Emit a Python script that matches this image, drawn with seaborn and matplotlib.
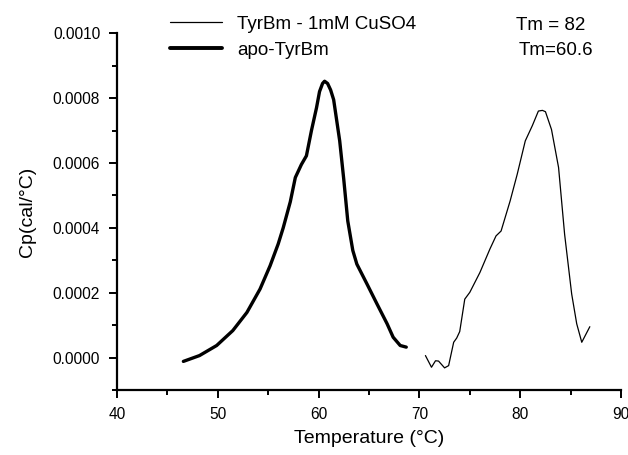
import numpy as np
import pandas as pd
import matplotlib.pyplot as plt
import seaborn as sns
from matplotlib.ticker import MultipleLocator

# apo-TyrBm (curva grossa)
apo_temp = [46.6, 48.2, 49.9, 51.5, 52.9, 54.2, 55.2, 56.0, 56.5, 57.2, 57.7, 58.3, 58.8,
            59.3, 59.8, 60.1, 60.4, 60.6, 60.9, 61.2, 61.5, 62.1, 62.5, 62.9, 63.4, 63.8,
            64.8, 65.8, 66.8, 67.4, 68.1, 68.7]
apo_cp = [-0.000012, 0.000006, 0.000037, 0.000083, 0.000139, 0.000211, 0.000283, 0.000350,
          0.000400, 0.000480, 0.000555, 0.000595, 0.000622, 0.000700, 0.000770, 0.000820,
          0.000845, 0.000852, 0.000845, 0.000825, 0.000795, 0.000668, 0.000550, 0.000421,
          0.000330, 0.000288, 0.000227, 0.000165, 0.000104, 0.0000625, 0.000037, 0.000032]

# TyrBm - 1mM CuSO4 (curva fina)
cu_temp = [70.6, 71.2, 71.6, 71.9, 72.5, 72.9, 73.4, 73.7, 74.0, 74.5, 75.0, 76.0, 77.0,
           77.6, 78.1, 79.0, 79.7, 80.5, 81.2, 81.8, 82.2, 82.5, 83.1, 83.8, 84.4, 85.1,
           85.6, 86.1, 86.9]
cu_cp = [0.000006, -0.000030, -0.000010, -0.000011, -0.000032, -0.000025, 0.000047,
         0.000060, 0.000080, 0.000180, 0.000201, 0.000262, 0.000335, 0.000375, 0.000390,
         0.000483, 0.000565, 0.000668, 0.000715, 0.000760, 0.000762, 0.000758, 0.000703,
         0.000586, 0.000380, 0.000196, 0.000104, 0.000047, 0.000095]

labels = ["TyrBm - 1mM CuSO4", "apo-TyrBm"]
tm_text = ["Tm = 82", "Tm=60.6"]

sns.set_style("ticks")
plt.rcParams['font.family'] = ['Liberation Sans', 'DejaVu Sans']
plt.rcParams['text.color'] = 'black'
plt.rcParams['axes.labelcolor'] = 'black'

fig = plt.figure(figsize=(6.28, 4.55), dpi=100)
ax = fig.add_axes([0.186, 0.143, 0.803, 0.784])

df_cu = pd.DataFrame({"T": cu_temp, "Cp": cu_cp})
df_apo = pd.DataFrame({"T": apo_temp, "Cp": apo_cp})
sns.lineplot(data=df_cu, x="T", y="Cp", ax=ax, color="black", linewidth=0.9,
             label=labels[0], sort=False, legend=False)
sns.lineplot(data=df_apo, x="T", y="Cp", ax=ax, color="black", linewidth=2.4,
             label=labels[1], sort=False, legend=False)

ax.set_xlim(40, 90)
ax.set_ylim(-0.0001, 0.0010)
ax.xaxis.set_major_locator(MultipleLocator(10))
ax.xaxis.set_minor_locator(MultipleLocator(5))
ax.yaxis.set_minor_locator(MultipleLocator(0.0001))
ax.set_yticks(np.arange(0, 0.00101, 0.0002))
ax.yaxis.set_major_formatter(plt.FuncFormatter(lambda v, p: f"{v:.4f}"))

for s in ["top", "right"]:
    ax.spines[s].set_visible(False)
for s in ["left", "bottom"]:
    ax.spines[s].set_linewidth(1.6)
    ax.spines[s].set_color("black")

ax.tick_params(which="major", length=6, width=1.4, labelsize=11.2, pad=6,
               color="black", labelcolor="black")
ax.tick_params(which="minor", length=3.5, width=1.4, color="black")

ax.set_xlabel("Temperature (°C)", fontsize=14, labelpad=6)
ax.set_ylabel("Cp(cal/°C)", fontsize=14, labelpad=12)

handles = ax.get_lines()
leg = fig.legend(handles, labels, loc="upper left", bbox_to_anchor=(0.27, 0.965),
                 frameon=False, fontsize=13.5, handlelength=2.8, handletextpad=0.8,
                 labelspacing=0.45, borderaxespad=0, borderpad=0, labelcolor="black")
for h, lw in zip(leg.get_lines(), [0.9, 2.8]):
    h.set_linewidth(lw)

fig.text(0.822, 0.945, tm_text[0], fontsize=13.5, va="center", ha="left")
fig.text(0.826, 0.890, tm_text[1], fontsize=13.5, va="center", ha="left")

fig.savefig("out.png", dpi=100)
